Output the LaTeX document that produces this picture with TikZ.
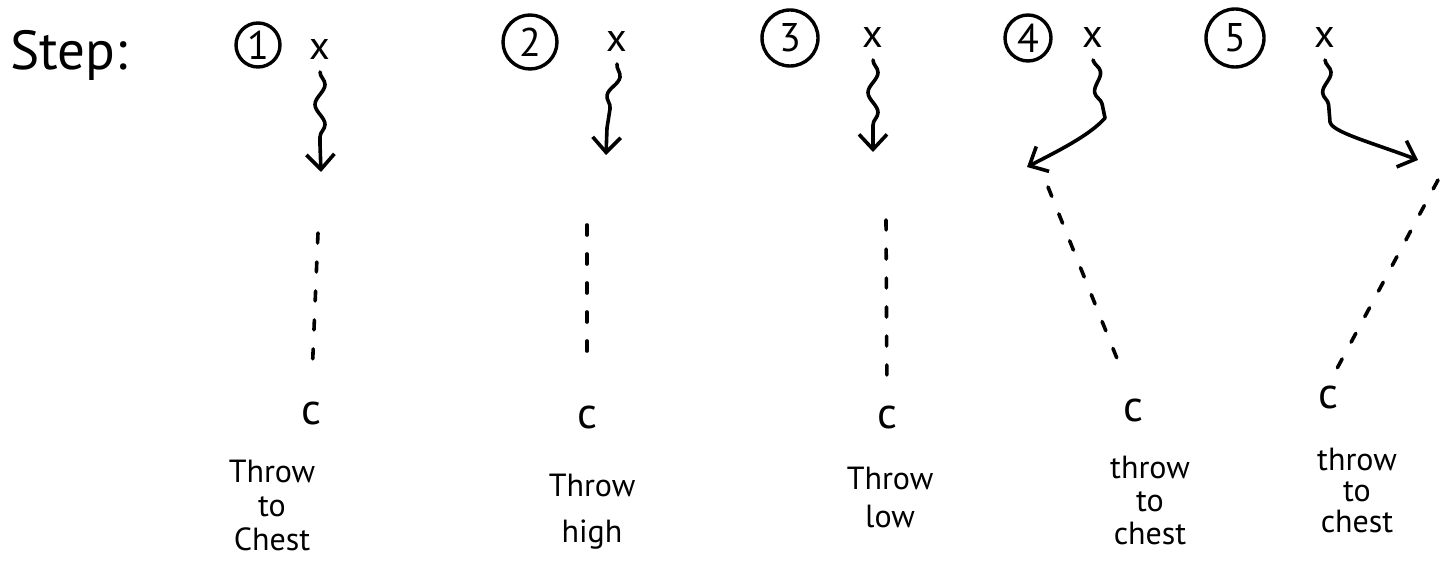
\documentclass[tikz,border=0pt]{standalone}
\usepackage{fontspec}
\setmainfont{PT Sans}
\usetikzlibrary{arrows.meta,decorations.pathmorphing}
\begin{document}
\begin{tikzpicture}[x=1pt,y=-1pt,
  ink/.style={line width=3.6pt, line cap=round, line join=round},
  num/.style={circle, draw, line width=3.4pt, inner sep=0pt, font=\fontsize{40}{40}\selectfont},
  xmark/.style={font=\fontsize{40}{40}\selectfont, inner sep=0pt, outer sep=12pt},
  catcher/.style={font=\fontsize{44}{44}\selectfont, inner sep=0pt},
  lbl/.style={align=center, inner sep=0pt},
  wavy/.style={decorate, decoration={snake, amplitude=5pt, segment length=40pt}},
  throwarrow/.style={ink, -{Straight Barb[length=15pt,width=28pt]}},
  pass/.style={ink, dash pattern=on 10pt off 19pt},
]
\useasboundingbox (0,0) rectangle (1447,569);

% title
\node[anchor=base west, inner sep=0pt, font=\fontsize{55}{55}\selectfont] (step) at (10,70) {Step:};

% step numbers
\node[num, minimum size=44pt] (n1) at (258,45) {1};
\node[num, minimum size=54pt] (n2) at (530,42) {2};
\node[num, minimum size=56pt] (n3) at (790,38) {3};
\node[num, minimum size=46pt] (n4) at (1028,38) {4};
\node[num, minimum size=58pt] (n5) at (1235,38) {5};

% quarterbacks
\node[xmark] (x1) at (320,50) {x};
\node[xmark] (x2) at (617,42) {x};
\node[xmark] (x3) at (873,38) {x};
\node[xmark] (x4) at (1093,38) {x};
\node[xmark] (x5) at (1325,38) {x};

% catchers
\node[catcher] (c1) at (311,413) {c};
\node[catcher] (c2) at (587,417) {c};
\node[catcher] (c3) at (887,417) {c};
\node[catcher] (c4) at (1133,410) {c};
\node[catcher] (c5) at (1328,397) {c};

% arrow tips and dashed-line starts
\coordinate (w1) at (320,145); \coordinate (t1) at (321,172);
\coordinate (w2) at (607,128); \coordinate (t2) at (606,155);
\coordinate (w3) at (873,125); \coordinate (t3) at (873,152);
\coordinate (w4) at (1105,118); \coordinate (t4) at (1027,167);
\coordinate (w5) at (1330,122); \coordinate (t5) at (1418,160);
\coordinate (d1) at (318,233);
\coordinate (d2) at (587,225);
\coordinate (d3) at (886,220);
\coordinate (d4) at (1048,187);
\coordinate (d5) at (1438,180);

% throws (wavy arrows)
\draw[throwarrow] (x1.south) decorate[wavy]{-- (w1)} -- (t1);
\draw[throwarrow] (x2.south) decorate[wavy]{-- (w2)} -- (t2);
\draw[throwarrow] (x3.south) decorate[wavy]{-- (w3)} -- (t3);
\draw[throwarrow] (x4.south) decorate[wavy]{-- (w4)} .. controls (1090,135) and (1060,150) .. (t4);
\draw[throwarrow] (x5.south) decorate[wavy]{-- (w5)} .. controls (1332,132) and (1370,142) .. (t5);

% dashed paths to catchers
\draw[pass, shorten >=38pt] (d1) -- (c1.north);
\draw[pass, shorten >=44pt] (d2) -- (c2.north);
\draw[pass, shorten >=12pt] (d3) -- (c3.north);
\draw[pass, shorten >=30pt] (d4) -- (c4.north);
\draw[pass, shorten >=10pt] (d5) -- (c5.north);

% labels
\node[lbl, font=\fontsize{32}{34}\selectfont] (l1) at (272,505) {Throw\\to\\Chest};
\node[lbl, font=\fontsize{32}{46}\selectfont] (l2) at (592,512) {Throw\\high};
\node[lbl, font=\fontsize{32}{38}\selectfont] (l3) at (890,497) {Throw\\low};
\node[lbl, font=\fontsize{32}{33}\selectfont] (l4) at (1150,500) {throw\\to\\chest};
\node[lbl, font=\fontsize{32}{31}\selectfont] (l5) at (1357,490) {throw\\to\\chest};
\end{tikzpicture}
\end{document}
